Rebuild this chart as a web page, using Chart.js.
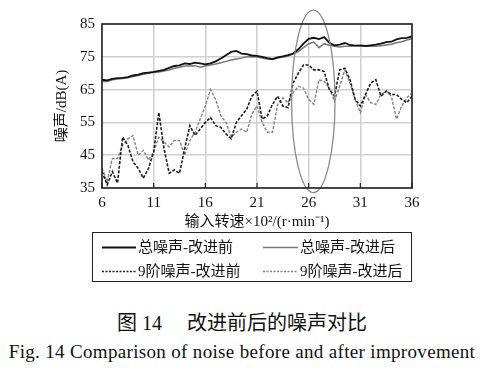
<!DOCTYPE html>
<html><head><meta charset="utf-8">
<script src="https://cdn.jsdelivr.net/npm/chart.js@4/dist/chart.umd.min.js"></script>
<style>
html,body{margin:0;padding:0;background:#fff;width:484px;height:377px;overflow:hidden}
#wrap{position:absolute;left:0;top:0;width:484px;height:240px}
#legend{position:absolute;left:92px;top:232px;width:318px;height:48px;border:1.5px solid #222;box-sizing:content-box}
.item{position:absolute;height:20px;font:15px "Liberation Serif","Noto Sans CJK SC",serif;color:#111;white-space:nowrap;line-height:20px}
.item svg{position:absolute;left:0;top:9px}
.item span{position:absolute;top:0}
#cap1{position:absolute;top:307px;left:0;width:484px;text-align:center;font:20px "Liberation Serif","Noto Sans CJK SC",serif;color:#111}
#cap2{position:absolute;top:341px;left:0;width:484px;text-align:center;font:19px "Liberation Serif",serif;letter-spacing:0.33px;color:#111}
</style></head>
<body>
<div id="wrap"><canvas id="c" width="484" height="240"></canvas></div>
<div id="legend"></div>
<div id="cap1">图 14&nbsp;&nbsp;&nbsp;&nbsp;&nbsp;改进前后的噪声对比</div>
<div id="cap2">Fig. 14 Comparison of noise before and after improvement</div>
<script>
// input speed (x10^2 r/min)
const rpm = [6,6.5,7,7.5,8,8.5,9,9.5,10,10.5,11,11.5,12,12.5,13,13.5,14,14.5,15,15.5,16,16.5,17,17.5,18,18.5,19,19.5,20,20.5,21,21.5,22,22.5,23,23.5,24,24.5,25,25.5,26,26.5,27,27.5,28,28.5,29,29.5,30,30.5,31,31.5,32,32.5,33,33.5,34,34.5,35,35.5,36];
const totalBefore = [68,67.8,68.3,68.5,68.6,68.8,69.3,69.6,70,70.2,70.4,70.7,71,71.6,72.2,72.4,73,72.8,73.2,73,72.7,73,73.6,74.5,75.5,76.5,76.8,76,75.8,75.4,75.3,75,74.6,74.3,74.8,75.1,75.5,76,77.3,79,80.5,80.8,80.4,81,79.3,78.5,78.7,79.2,78.6,78.4,78.5,78.3,78.5,78.7,79,79.5,79.6,80.3,80.7,80.8,81.2];
const totalAfter = [67.5,67.5,68,68.2,68.4,68.6,69,69.3,69.7,70,70.2,70.4,70.7,71,71.5,71.8,72.2,72.2,72.3,71.8,72.2,72.5,72.8,73.2,73.6,74,74.3,74.6,75,75.1,74.9,74.6,74.3,74.2,74.6,74.9,75.2,75.8,76.6,77.8,79,79.5,77.8,79,78.5,78.2,78,78.2,78.2,78.4,78.4,78.2,78.2,78.2,78.4,78.6,78.8,79.3,79.6,80.1,80.5];
const order9Before = [40,36,40,36.5,50.5,48,43,41,38,41,46,58,47,39.5,40.5,39.5,47,54,51,53,55,56.5,54,53.5,51.5,50,55,57,59,63,64.5,56,57,60.5,63,60,59.5,67,70,72.5,72.5,71,71,70.5,65,63,71,71.5,68,62,60,63.5,67,68,63,64.5,63.5,63.5,62,61,63];
const order9After = [41,37,44,44,48,50,51,45,46.5,43.5,46,50.5,49,47.5,49.5,49.5,45,49.5,52,56,60,65,62,57,55,50.5,52,53,52,57.5,60,55,52,52,60.5,62.5,61,64,66,65.5,62,60.5,68,67.5,65.5,61.5,66,71,67,62,58,63.5,61,60.5,63.5,64.5,63,56,60,62.5,64];
const seriesNames = ['总噪声-改进前','总噪声-改进后','9阶噪声-改进前','9阶噪声-改进后'];
const xTicks = [6,11,16,21,26,31,36];
const yTicks = [35,45,55,65,75,85];
// highlight ellipse (data units)
const ellCx = 26.45, ellCy = 61.4, ellRx = 2.1, ellRy = 27.8;

const styles = [
  {color:'#111', width:1.8, dash:[]},
  {color:'#777', width:1.5, dash:[]},
  {color:'#1a1a1a', width:1.6, dash:[3,1.6]},
  {color:'#808080', width:1.4, dash:[3,1.6]}
];
const allSeries = [totalBefore,totalAfter,order9Before,order9After];
const datasets = allSeries.map((arr,k)=>({
  label: seriesNames[k],
  data: rpm.map((x,i)=>({x:x,y:arr[i]})),
  borderColor: styles[k].color, borderWidth: styles[k].width, borderDash: styles[k].dash,
  pointRadius:0, tension:0, fill:false
}));

const framePlugin = {
  id:'frame',
  afterDatasetsDraw(chart){
    const {ctx, chartArea:a, scales:{x,y}} = chart;
    ctx.save();
    const cx = x.getPixelForValue(ellCx), cy = y.getPixelForValue(ellCy);
    const rx = x.getPixelForValue(ellCx+ellRx)-cx, ry = cy - y.getPixelForValue(ellCy+ellRy);
    ctx.beginPath(); ctx.ellipse(cx,cy,rx,ry,0,0,Math.PI*2);
    ctx.strokeStyle='#8a8a8a'; ctx.lineWidth=1.3; ctx.stroke();
    ctx.strokeStyle='#222'; ctx.lineWidth=1.2;
    xTicks.forEach(v=>{const px=x.getPixelForValue(v); ctx.beginPath(); ctx.moveTo(px,a.bottom); ctx.lineTo(px,a.bottom-5); ctx.stroke();});
    ctx.lineWidth=1.6; ctx.strokeStyle='#222';
    ctx.strokeRect(a.left,a.top,a.right-a.left,a.bottom-a.top);
    ctx.restore();
  }
};

const tickFont = {family:'"Liberation Serif", serif', size:15};
new Chart(document.getElementById('c'), {
  type:'line',
  data:{datasets},
  options:{
    responsive:false, animation:false,
    layout:{padding:{left:0,top:24,right:72,bottom:7}},
    plugins:{legend:{display:false}, tooltip:{enabled:false}},
    scales:{
      x:{type:'linear', min:6, max:36,
        afterBuildTicks(s){s.ticks = xTicks.map(v=>({value:v}));},
        afterFit(s){s.height=45;},
        ticks:{font:tickFont, color:'#111', padding:6},
        grid:{color:'#cfcfcf', lineWidth:1.5, drawTicks:false},
        border:{display:false},
        title:{display:true, text:'输入转速×10²/(r·min⁻¹)', color:'#111', font:{family:'"Liberation Serif","Noto Sans CJK SC", serif', size:15}, padding:{top:2,bottom:2}}
      },
      y:{min:35, max:85,
        afterBuildTicks(s){s.ticks = yTicks.map(v=>({value:v}));},
        afterFit(s){s.width=102;},
        ticks:{font:tickFont, color:'#111', padding:7},
        grid:{color:'#cfcfcf', lineWidth:1.5, drawTicks:false},
        border:{display:false},
        title:{display:true, text:'噪声/dB(A)', color:'#111', font:{family:'"Liberation Serif","Noto Sans CJK SC", serif', size:15}, padding:{top:53,bottom:0}}
      }
    }
  },
  plugins:[framePlugin]
});

const leg = document.getElementById('legend');
const pos = [[9,4],[170,4],[9,28],[170,28]];
seriesNames.forEach((n,k)=>{
  const d = document.createElement('div'); d.className='item';
  d.style.left = pos[k][0]+'px'; d.style.top = pos[k][1]+'px';
  const len = k%2===0 ? 34 : 35;
  d.innerHTML = '<svg width="'+len+'" height="3"><line x1="0" y1="1.5" x2="'+len+'" y2="1.5" stroke="'+styles[k].color+'" stroke-width="'+styles[k].width+'" '+(styles[k].dash.length?'stroke-dasharray="2,1.5"':'')+'/></svg><span style="left:'+(len+2)+'px">'+n+'</span>';
  leg.appendChild(d);
});
</script>
</body></html>
